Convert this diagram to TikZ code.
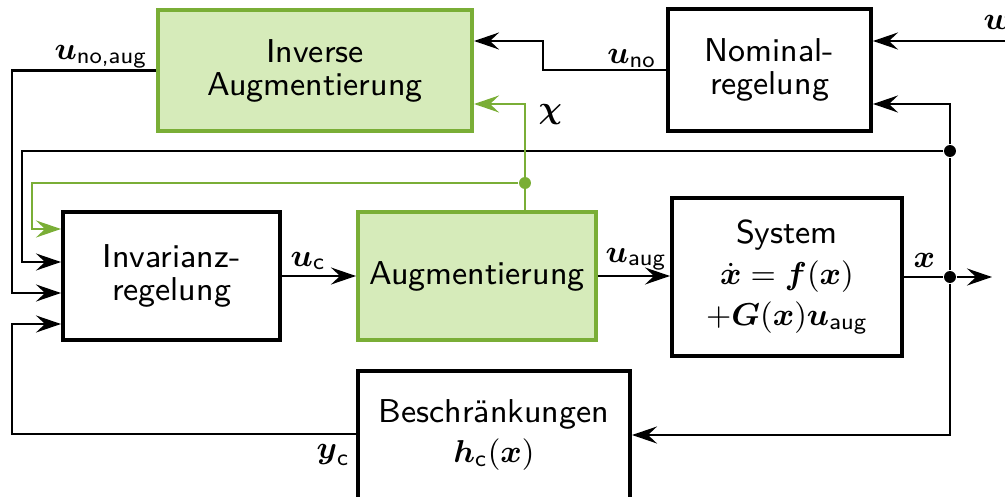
\documentclass[tikz,border=0pt]{standalone}
\usepackage{amsmath}
\usetikzlibrary{arrows.meta, positioning}

\definecolor{augfill}{HTML}{D6EBBA}
\definecolor{augline}{HTML}{7AAE36}

\tikzset{
  block/.style={draw, line width=1.1pt, align=center, inner sep=0pt},
  augblock/.style={block, draw=augline, fill=augfill},
  sig/.style={semithick, -{Stealth[length=2.5mm, width=1.7mm, inset=0.9mm]}},
  junction/.style={circle, fill, inner sep=0pt, minimum size=3.4pt},
  lbl/.style={inner sep=0pt},
}
\newcommand{\vx}{\boldsymbol{x}}

\begin{document}
\begin{tikzpicture}[x=0.01cm, y=-0.01cm, font=\sffamily\fontsize{9.4}{9.4}\selectfont]
\useasboundingbox (0,0) rectangle (1005,497);

% Blocks
\node[augblock, minimum width=3.14cm, minimum height=1.21cm] (inv) at (315,70.5) {Inverse\\Augmentierung};
\node[block, minimum width=2.03cm, minimum height=1.22cm] (nom) at (769.5,70) {Nominal-\\regelung};
\node[block, minimum width=2.17cm, minimum height=1.28cm] (ivr) at (171.5,276) {Invarianz-\\regelung};
\node[augblock, minimum width=2.38cm, minimum height=1.28cm] (aug) at (477,276) {Augmentierung};
\node[block, minimum width=2.30cm, minimum height=1.58cm] (sys) at (787,277)
  {System\\[2.2pt] $\dot{\vx} = \boldsymbol{f}(\vx)$\\[2.2pt] $+\boldsymbol{G}(\vx)\boldsymbol{u}_{\text{aug}}$};
\node[block, minimum width=2.72cm, minimum height=1.28cm] (bes) at (494,435)
  {Beschr\"ankungen\\[2.2pt] $\boldsymbol{h}_{\text{c}}(\vx)$};

% Junctions
\node[junction] (xdot) at (950,277) {};
\node[junction] (xtap) at (950,151) {};
\node[junction, augline] (chidot) at (525,183) {};
\coordinate (win) at (1010,41);
\coordinate (xout) at (992,277);

% Reference input
\draw[sig] (win) -- (nom.east |- win);
\node[lbl, anchor=base west] (wlab) at (983,30) {$\boldsymbol{w}$};

% Nominal control to inverse augmentation
\draw[sig] (nom.west) -- ++(-123,0) |- (inv.east |- win);
\node[lbl, anchor=base east] (unolab) at (657,64) {$\boldsymbol{u}_{\text{no}}$};

% Forward path
\draw[sig] (ivr) -- (aug);
\node[lbl, anchor=base west] (uclab) at (290,266) {$\boldsymbol{u}_{\text{c}}$};
\draw[sig] (aug.east) -- (aug.east -| sys.west);
\node[lbl, anchor=base west] (uauglab) at (605,262) {$\boldsymbol{u}_{\text{aug}}$};
\draw[semithick] (sys.east |- xdot) -- (xdot);
\draw[sig] (xdot) -- (xout);
\node[lbl, anchor=base west] (xlab) at (913,268) {$\vx$};

% State feedback
\draw[semithick] (xdot) -- (xtap);
\draw[sig] (xtap) |- (nom.east |- 0,104);
\draw[sig] (xdot) |- (bes.east);
\draw[sig] (xtap) -- (22,151) |- (ivr.west |- 0,262);

% Augmented state
\draw[sig, augline] ([xshift=0.48cm]aug.north) |- (inv.east |- 0,104);
\node[lbl, anchor=base west] (chilab) at (538,118) {$\boldsymbol{\chi}$};
\draw[sig, augline] (chidot) -- (32,183) |- (ivr.west |- 0,229);

% Inverse augmentation output
\draw[sig] (inv.west) -- (12,70.5) |- (ivr.west |- 0,293);
\node[lbl, anchor=base east] (unoauglab) at (148,60) {$\boldsymbol{u}_{\text{no,aug}}$};

% Constraint output
\draw[sig] (bes.west |- 0,434) -- (12,434) |- (ivr.west |- 0,324);
\node[lbl, anchor=base west] (yclab) at (316,458) {$\boldsymbol{y}_{\text{c}}$};

\end{tikzpicture}
\end{document}
